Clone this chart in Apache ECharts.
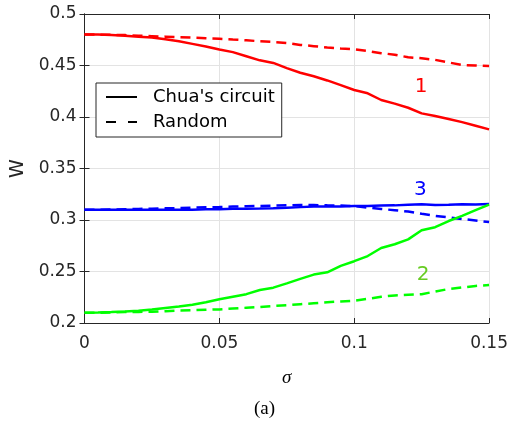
<!DOCTYPE html>
<html>
<head>
<meta charset="utf-8">
<script src="https://cdn.jsdelivr.net/npm/echarts@6/dist/echarts.min.js"></script>
<style>
  html, body { margin: 0; padding: 0; background: #fff; }
  #main { width: 511px; height: 426px; }
</style>
</head>
<body>
<div id="main"></div>
<script>
// sigma samples
const sigma = [0, 0.005, 0.01, 0.015, 0.02, 0.025, 0.03, 0.035, 0.04, 0.045, 0.05,
  0.055, 0.06, 0.065, 0.07, 0.075, 0.08, 0.085, 0.09, 0.095, 0.1,
  0.105, 0.11, 0.115, 0.12, 0.125, 0.13, 0.135, 0.14, 0.145, 0.15]

// curve 1 (red)
const chua1 = [0.480, 0.480, 0.4795, 0.479, 0.478, 0.4772, 0.4755, 0.4735, 0.471, 0.4685, 0.4655,
  0.463, 0.459, 0.455, 0.4525, 0.4475, 0.443, 0.4395, 0.4355, 0.431, 0.4262,
  0.423, 0.4165, 0.413, 0.409, 0.4035, 0.401, 0.398, 0.395, 0.3915, 0.388]
const rand1 = [0.480, 0.480, 0.4798, 0.4795, 0.479, 0.4785, 0.478, 0.4775, 0.477, 0.4765, 0.476,
  0.4752, 0.4745, 0.4735, 0.4728, 0.4718, 0.470, 0.4688, 0.4675, 0.4665, 0.4657,
  0.464, 0.462, 0.4605, 0.458, 0.457, 0.4555, 0.453, 0.4505, 0.450, 0.4495]

// curve 3 (blue)
const chua3 = [0.310, 0.310, 0.310, 0.310, 0.310, 0.310, 0.310, 0.310, 0.310, 0.3105, 0.3105,
  0.311, 0.311, 0.3112, 0.3115, 0.312, 0.3125, 0.313, 0.313, 0.3132, 0.3136,
  0.3135, 0.314, 0.3142, 0.3148, 0.3153, 0.3145, 0.3148, 0.3153, 0.315, 0.3155]
const rand3 = [0.310, 0.310, 0.3102, 0.3105, 0.3108, 0.311, 0.3113, 0.3116, 0.312, 0.3123, 0.3126,
  0.313, 0.3133, 0.3136, 0.3139, 0.3143, 0.3145, 0.3145, 0.3142, 0.314, 0.3136,
  0.312, 0.3107, 0.3095, 0.3082, 0.306, 0.304, 0.3025, 0.301, 0.2995, 0.298]

// curve 2 (green)
const chua2 = [0.210, 0.2102, 0.2106, 0.2112, 0.212, 0.213, 0.2145, 0.216, 0.2178, 0.2202, 0.223,
  0.2255, 0.228, 0.232, 0.2343, 0.2385, 0.2428, 0.247, 0.2492, 0.2555, 0.260,
  0.265, 0.2728, 0.2765, 0.2812, 0.290, 0.293, 0.299, 0.304, 0.3095, 0.315]
const rand2 = [0.210, 0.210, 0.2103, 0.2106, 0.2108, 0.211, 0.2115, 0.212, 0.2124, 0.2128, 0.2132,
  0.214, 0.2148, 0.2155, 0.2165, 0.2172, 0.2182, 0.2192, 0.2202, 0.2209, 0.2216,
  0.2235, 0.2255, 0.2268, 0.2275, 0.228, 0.2305, 0.233, 0.2345, 0.236, 0.2368]

// curve number labels: [sigma, W]
const tagText = ['1', '3', '2']
const tagPos = [[0.1248, 0.429], [0.1245, 0.329], [0.1255, 0.2465]]

const legendNames = ["Chua's circuit", 'Random']

const font = 'DejaVu Sans'
const axisColor = '#262626'
const dash = [10, 6]

const pairs = ys => sigma.map((s, i) => [s, ys[i]])

function curve (ys, color, dashed, tagIdx, tagColor) {
  const s = {
    type: 'line',
    data: pairs(ys),
    symbol: 'none',
    silent: true,
    lineStyle: { color: color, width: 2.5, type: dashed ? dash : 'solid' },
    z: dashed ? 3 : 4
  }
  if (tagIdx !== undefined) {
    s.markPoint = {
      symbol: 'circle',
      symbolSize: 0,
      data: [{ coord: tagPos[tagIdx], value: tagText[tagIdx] }],
      label: {
        show: true, position: 'inside', formatter: tagText[tagIdx],
        color: tagColor || color, fontSize: 20, fontFamily: font
      }
    }
  }
  return s
}

const option = {
  animation: false,
  backgroundColor: '#fff',
  grid: { left: 84.5, right: 20, top: 14, bottom: 103 },
  legend: {
    orient: 'vertical',
    left: 96, top: 83,
    data: [
      { name: legendNames[0] },
      { name: legendNames[1], lineStyle: { type: [10, 12] } }
    ],
    backgroundColor: '#fff',
    borderColor: axisColor,
    borderWidth: 1,
    borderRadius: 0,
    padding: [5, 7, 6, 9],
    itemWidth: 31,
    itemHeight: 20,
    itemGap: 7,
    itemStyle: { color: 'rgba(0,0,0,0)', borderColor: 'rgba(0,0,0,0)', borderWidth: 0 },
    textStyle: { fontSize: 18, fontFamily: font, color: '#000', padding: [0, 0, 0, 11] }
  },
  xAxis: [{
    type: 'value', min: 0, max: 0.15, interval: 0.05,
    name: 'σ', nameLocation: 'middle', nameGap: 45,
    nameTextStyle: { fontSize: 19, fontStyle: 'italic', fontFamily: 'Liberation Serif', color: '#000' },
    axisLine: { lineStyle: { color: axisColor, width: 1 } },
    axisTick: { inside: true, length: 5, lineStyle: { color: axisColor } },
    axisLabel: { fontSize: 17, fontFamily: font, color: axisColor, margin: 12 },
    splitLine: { show: true, lineStyle: { color: '#e3e3e3', width: 1 } }
  }, {
    type: 'value', min: 0, max: 0.15, interval: 0.05, position: 'top',
    axisLine: { show: true, lineStyle: { color: axisColor, width: 1 } },
    axisTick: { show: true, inside: true, length: 5, lineStyle: { color: axisColor } },
    axisLabel: { show: false },
    splitLine: { show: false }
  }],
  yAxis: [{
    type: 'value', min: 0.2, max: 0.5, interval: 0.05,
    name: 'W', nameLocation: 'middle', nameGap: 53,
    nameTextStyle: { fontSize: 19, fontFamily: font, color: axisColor },
    axisLine: { show: true, lineStyle: { color: axisColor, width: 1 } },
    axisTick: { show: true, inside: true, length: 5, lineStyle: { color: axisColor } },
    axisLabel: { fontSize: 17, fontFamily: font, color: axisColor, margin: 8 },
    splitLine: { show: true, lineStyle: { color: '#e3e3e3', width: 1 } }
  }, {
    type: 'value', min: 0.2, max: 0.5, interval: 0.05, position: 'right',
    axisLine: { show: true, lineStyle: { color: axisColor, width: 1 } },
    axisTick: { show: true, inside: true, length: 5, lineStyle: { color: axisColor } },
    axisLabel: { show: false },
    splitLine: { show: false }
  }],
  graphic: [{
    type: 'text', left: 254, top: 400,
    style: { text: '(a)', fontSize: 19, fontFamily: 'Liberation Serif', fill: '#000' }
  }],
  series: [
    // legend-only entries in black
    { name: legendNames[0], type: 'line', data: [], symbol: 'none', lineStyle: { color: '#000', width: 2.5 }, itemStyle: { color: '#000' } },
    { name: legendNames[1], type: 'line', data: [], symbol: 'none', lineStyle: { color: '#000', width: 2.5, type: dash }, itemStyle: { color: '#000' } },
    curve(rand1, '#ff0000', true),
    curve(chua1, '#ff0000', false, 0),
    curve(rand3, '#0000ff', true),
    curve(chua3, '#0000ff', false, 1),
    curve(rand2, '#00ff00', true),
    curve(chua2, '#00ff00', false, 2, '#66cc22')
  ]
}

const chart = echarts.init(document.getElementById('main'))
chart.setOption(option)
</script>
</body>
</html>
